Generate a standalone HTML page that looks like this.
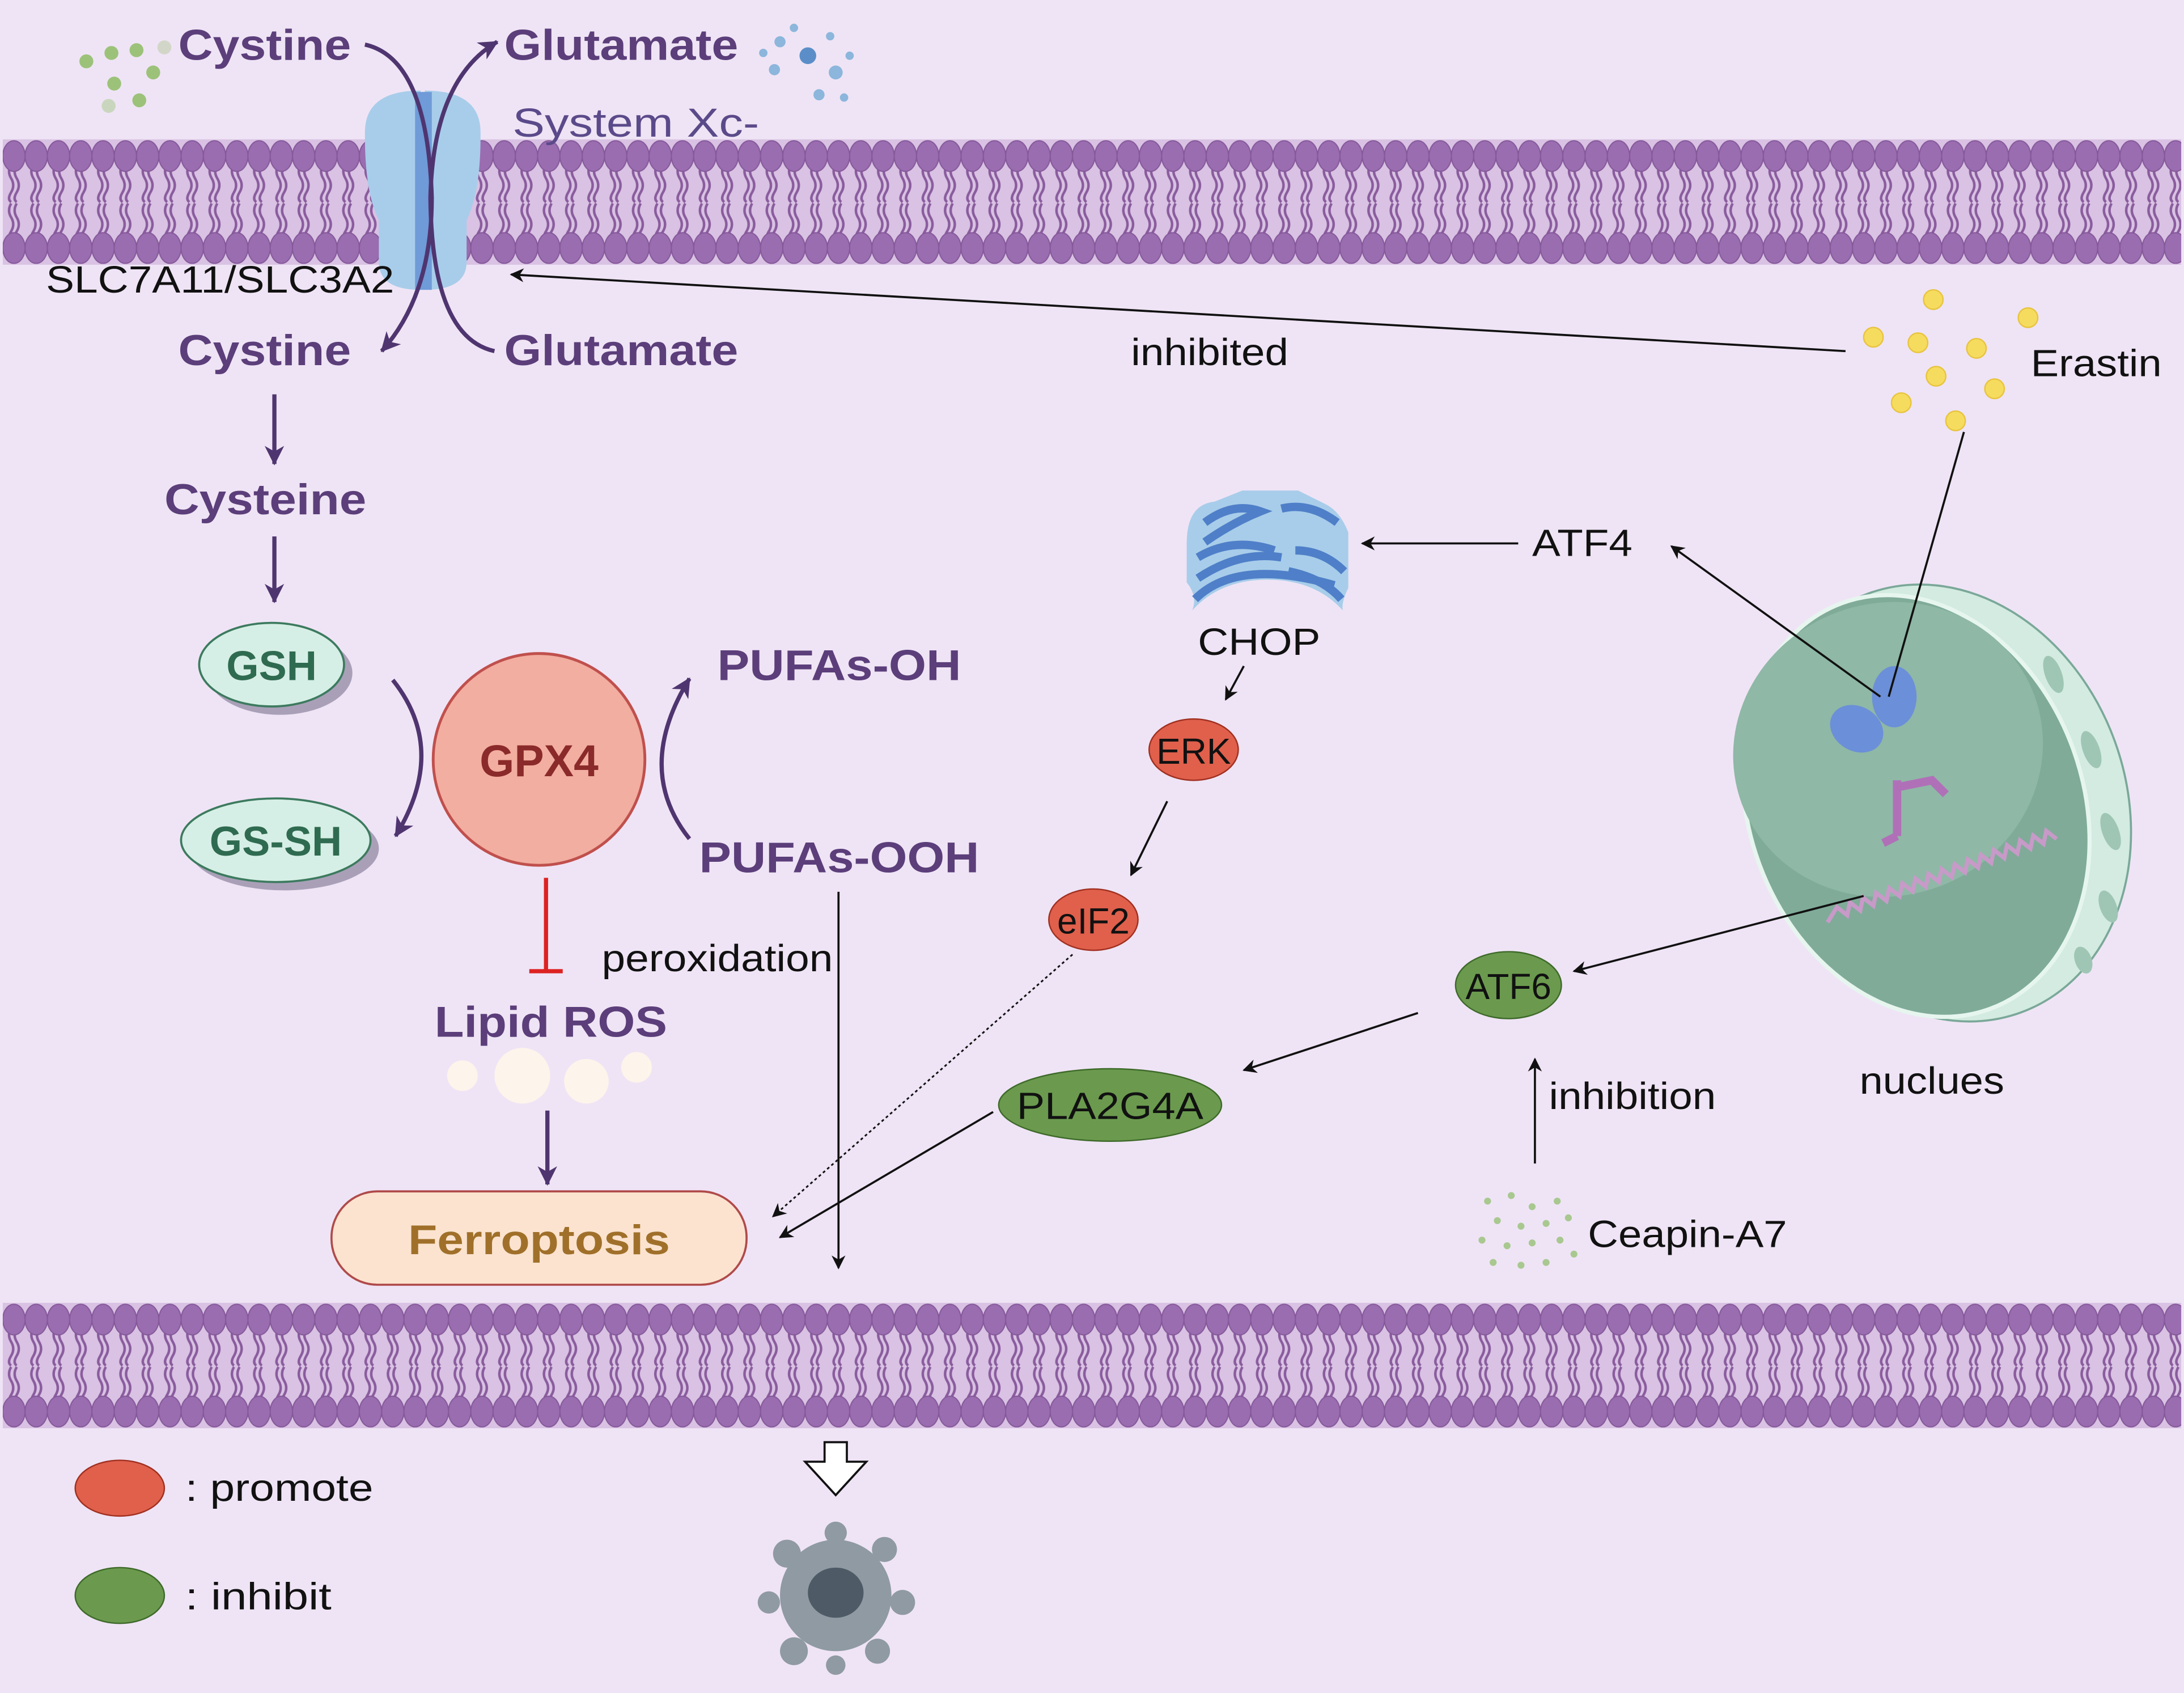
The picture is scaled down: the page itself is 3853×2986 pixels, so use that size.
<!DOCTYPE html>
<html><head><meta charset="utf-8"><style>
html,body{margin:0;padding:0;background:#efe4f5;}
svg{display:block;}
text{font-family:"Liberation Sans",sans-serif;}
</style></head><body>
<svg width="3853" height="2986" viewBox="0 0 1568 1215" preserveAspectRatio="none" xmlns="http://www.w3.org/2000/svg">
<defs>
<pattern id="mem1" x="2" y="100" width="16" height="90" patternUnits="userSpaceOnUse">
<rect width="16" height="90" fill="#d9c2e3"/>
<path d="M6 18 q-3 5 0 10 q3 5 0 10 q-3 5 0 7 M10 18 q-3 5 0 10 q3 5 0 10 q-3 5 0 7 M6 46 q-3 5 0 10 q3 5 0 10 q-3 5 0 7 M10 46 q-3 5 0 10 q3 5 0 10 q-3 5 0 7" stroke="#8a5c9e" stroke-width="1.8" fill="none"/>
<ellipse cx="8" cy="12" rx="8" ry="11" fill="#9a6cb0" stroke="#85589a" stroke-width="0.8"/>
<ellipse cx="8" cy="78" rx="8" ry="11" fill="#9a6cb0" stroke="#85589a" stroke-width="0.8"/>
</pattern>
<pattern id="mem2" x="2" y="935" width="16" height="90" patternUnits="userSpaceOnUse">
<rect width="16" height="90" fill="#d9c2e3"/>
<path d="M6 18 q-3 5 0 10 q3 5 0 10 q-3 5 0 7 M10 18 q-3 5 0 10 q3 5 0 10 q-3 5 0 7 M6 46 q-3 5 0 10 q3 5 0 10 q-3 5 0 7 M10 46 q-3 5 0 10 q3 5 0 10 q-3 5 0 7" stroke="#8a5c9e" stroke-width="1.8" fill="none"/>
<ellipse cx="8" cy="12" rx="8" ry="11" fill="#9a6cb0" stroke="#85589a" stroke-width="0.8"/>
<ellipse cx="8" cy="78" rx="8" ry="11" fill="#9a6cb0" stroke="#85589a" stroke-width="0.8"/>
</pattern>
<marker id="ar" markerWidth="10" markerHeight="10" refX="9" refY="5" orient="auto" markerUnits="userSpaceOnUse"><path d="M0 0 L10 5 L0 10 L3 5 Z" fill="#111"/></marker>
<marker id="arp" markerWidth="16" markerHeight="16" refX="13" refY="8" orient="auto" markerUnits="userSpaceOnUse"><path d="M0 1 L14 8 L0 15 L4 8 Z" fill="#4f3570"/></marker>
</defs>
<rect width="1568" height="1215" fill="#efe4f5"/>
<rect x="2" y="100" width="1564" height="90" fill="url(#mem1)"/>
<rect x="2" y="935" width="1564" height="90" fill="url(#mem2)"/>
<!-- transporter -->
<path d="M262 95 q0-30 40-30 l0 143 q-30 0 -30-20 l0-30 q-10-20 -10-60 z" fill="#a8cdea"/>
<path d="M345 95 q0-30 -40-30 l0 143 q30 0 30-20 l0-30 q10-20 10-60 z" fill="#a8cdea"/>
<rect x="298" y="66" width="12" height="142" fill="#6f9bd8"/>
<path d="M262 32 q45 10 48 110 q0 70 -36 110" stroke="#4f3570" stroke-width="3" fill="none" marker-end="url(#arp)"/>
<path d="M355 252 q-45 -10 -46 -110 q2 -85 48 -112" stroke="#4f3570" stroke-width="3" fill="none" marker-end="url(#arp)"/>
<g font-weight="bold" fill="#5b3e7a" font-size="31" lengthAdjust="spacingAndGlyphs">
<text x="128" y="43" textLength="124" lengthAdjust="spacingAndGlyphs">Cystine</text>
<text x="362" y="43" textLength="168" lengthAdjust="spacingAndGlyphs">Glutamate</text>
<text x="128" y="262" textLength="124" lengthAdjust="spacingAndGlyphs">Cystine</text>
<text x="362" y="262" textLength="168" lengthAdjust="spacingAndGlyphs">Glutamate</text>
<text x="118" y="369" textLength="145" lengthAdjust="spacingAndGlyphs">Cysteine</text>
<text x="515" y="488" textLength="175" lengthAdjust="spacingAndGlyphs">PUFAs-OH</text>
<text x="502" y="626" textLength="201" lengthAdjust="spacingAndGlyphs">PUFAs-OOH</text>
<text x="312" y="744" textLength="167" lengthAdjust="spacingAndGlyphs">Lipid ROS</text>
</g>
<text x="368" y="98" font-size="29" fill="#5b4a8a" textLength="177" lengthAdjust="spacingAndGlyphs">System Xc-</text>
<text x="33" y="210" font-size="27" fill="#111" textLength="250" lengthAdjust="spacingAndGlyphs">SLC7A11/SLC3A2</text>
<g fill="#9cc27a"><circle cx="62" cy="44" r="5"/><circle cx="80" cy="38" r="5"/><circle cx="98" cy="36" r="5"/><circle cx="110" cy="52" r="5"/><circle cx="82" cy="60" r="5"/><circle cx="100" cy="72" r="5"/><circle cx="78" cy="76" r="5" fill="#c9d6bd"/><circle cx="118" cy="34" r="5" fill="#d2d6c8"/></g>
<g fill="#8cb6dc"><circle cx="580" cy="40" r="6" fill="#5b8ec8"/><circle cx="560" cy="30" r="4"/><circle cx="596" cy="26" r="3"/><circle cx="556" cy="50" r="4"/><circle cx="600" cy="52" r="5"/><circle cx="588" cy="68" r="4"/><circle cx="610" cy="40" r="3"/><circle cx="570" cy="20" r="3"/><circle cx="548" cy="38" r="3"/><circle cx="606" cy="70" r="3"/></g>
<line x1="197" y1="283" x2="197" y2="333" stroke="#4f3570" stroke-width="3" marker-end="url(#arp)"/>
<line x1="197" y1="385" x2="197" y2="432" stroke="#4f3570" stroke-width="3" marker-end="url(#arp)"/>
<line x1="393" y1="797" x2="393" y2="850" stroke="#4f3570" stroke-width="3" marker-end="url(#arp)"/>
<ellipse cx="201" cy="483" rx="52" ry="30" fill="#a9a0b8"/>
<ellipse cx="195" cy="477" rx="52" ry="30" fill="#d6efe6" stroke="#3c7a5e" stroke-width="1.5"/>
<text x="195" y="488" font-size="30" font-weight="bold" fill="#2f6b50" text-anchor="middle">GSH</text>
<ellipse cx="204" cy="609" rx="68" ry="30" fill="#a9a0b8"/>
<ellipse cx="198" cy="603" rx="68" ry="30" fill="#d6efe6" stroke="#3c7a5e" stroke-width="1.5"/>
<text x="198" y="614" font-size="30" font-weight="bold" fill="#2f6b50" text-anchor="middle">GS-SH</text>
<path d="M282 488 q40 50 2 112" stroke="#4f3570" stroke-width="3" fill="none" marker-end="url(#arp)"/>
<path d="M495 602 q-40 -50 0 -115" stroke="#4f3570" stroke-width="3" fill="none" marker-end="url(#arp)"/>
<circle cx="387" cy="545" r="76" fill="#f2aea0" stroke="#c0504d" stroke-width="2"/>
<text x="387" y="557" font-size="32" font-weight="bold" fill="#8b2a2a" text-anchor="middle">GPX4</text>
<line x1="392" y1="630" x2="392" y2="697" stroke="#d22" stroke-width="3"/>
<line x1="380" y1="697" x2="404" y2="697" stroke="#d22" stroke-width="3"/>
<g fill="#fff6ea" opacity="0.9"><circle cx="332" cy="772" r="11"/><circle cx="375" cy="772" r="20"/><circle cx="421" cy="776" r="16"/><circle cx="457" cy="766" r="11"/></g>
<rect x="238" y="855" width="298" height="67" rx="33" fill="#fbe3cf" stroke="#b04a4a" stroke-width="1.5"/>
<text x="387" y="900" font-size="30" font-weight="bold" fill="#a0702a" text-anchor="middle" textLength="188" lengthAdjust="spacingAndGlyphs">Ferroptosis</text>
<text x="432" y="697" font-size="27" fill="#111" textLength="166" lengthAdjust="spacingAndGlyphs">peroxidation</text>
<line x1="602" y1="640" x2="602" y2="910" stroke="#111" stroke-width="1.5" marker-end="url(#ar)"/>
<g fill="#f6dc5e" stroke="#e8c440" stroke-width="1"><circle cx="1388" cy="215" r="7"/><circle cx="1456" cy="228" r="7"/><circle cx="1345" cy="242" r="7"/><circle cx="1377" cy="246" r="7"/><circle cx="1419" cy="250" r="7"/><circle cx="1390" cy="270" r="7"/><circle cx="1432" cy="279" r="7"/><circle cx="1365" cy="289" r="7"/><circle cx="1404" cy="302" r="7"/></g>
<text x="1458" y="270" font-size="27" fill="#111" textLength="94" lengthAdjust="spacingAndGlyphs">Erastin</text>
<line x1="1325" y1="252" x2="367" y2="197" stroke="#111" stroke-width="1.5" marker-end="url(#ar)"/>
<text x="812" y="262" font-size="27" fill="#111" textLength="113" lengthAdjust="spacingAndGlyphs">inhibited</text>
<!-- Nucleus -->
<g transform="rotate(-20 1385 575)">
<ellipse cx="1395" cy="580" rx="130" ry="160" fill="#d3ebe1" stroke="#7aa898" stroke-width="1.5"/>
<ellipse cx="1375" cy="575" rx="120" ry="155" fill="#80ab99" stroke="#e6f6ef" stroke-width="3"/>
<ellipse cx="1370" cy="530" rx="112" ry="105" fill="#8fb8a6"/>
<g fill="#9fc6b5"><ellipse cx="1500" cy="520" rx="6" ry="14"/><ellipse cx="1507" cy="580" rx="6" ry="14"/><ellipse cx="1500" cy="640" rx="6" ry="14"/><ellipse cx="1480" cy="690" rx="6" ry="12"/><ellipse cx="1450" cy="720" rx="6" ry="10"/></g>
</g>
<path d="M1295 635 l10-8 5 8 5-8 5 8 5-8 5 8 5-8 5 8 5-8 5 8 5-8 5 8 5-8 5 8 5-8 5 8 5-8 5 8 5-8 5 8 5-8 5 8 5-8 5 8 5-8 5 8 5-8 5 8 5-8 5 8 5-8 5 8 5-8 5 8" stroke="#c79ac8" stroke-width="3" fill="none" transform="rotate(-20 1380 600)"/>
<path d="M1362 560 l0 40 M1362 565 l25 -5 10 10 M1362 600 l-10 5" stroke="#b070b8" stroke-width="6" fill="none"/>
<ellipse cx="1333" cy="523" rx="20" ry="16" fill="#6b8fd8" transform="rotate(30 1333 523)"/>
<ellipse cx="1360" cy="500" rx="16" ry="22" fill="#6b8fd8"/>
<text x="1335" y="785" font-size="27" fill="#111" textLength="104" lengthAdjust="spacingAndGlyphs">nuclues</text>
<line x1="1410" y1="310" x2="1356" y2="500" stroke="#111" stroke-width="1.5"/>
<line x1="1350" y1="500" x2="1200" y2="392" stroke="#111" stroke-width="1.5" marker-end="url(#ar)"/>
<!-- ER -->
<g transform="translate(910 400)">
<path d="M-58 -10 q0-28 20-30 l20 -8 l40 0 l20 10 q10 5 16 20 l0 40 q-5 10 -4 16 q-20 -22 -54 -22 q-34 0 -54 22 q4 -10 -4 -20 z" fill="#a8cdea"/>
<g stroke="#4f7fc8" stroke-width="6" fill="none"><path d="M-45 -25 q20 -15 40 -8 q-20 8 -40 22"/><path d="M-50 0 q25 -15 55 -5"/><path d="M-50 15 q30 -20 60 -15"/><path d="M10 -35 q20 -5 40 10"/><path d="M20 -5 q20 0 35 15"/><path d="M15 10 q25 5 38 20"/><path d="M-52 30 q30 -30 100 -10"/></g>
</g>
<text x="860" y="470" font-size="27" fill="#111" textLength="88" lengthAdjust="spacingAndGlyphs">CHOP</text>
<text x="1100" y="399" font-size="27" fill="#111" textLength="72" lengthAdjust="spacingAndGlyphs">ATF4</text>
<line x1="1090" y1="390" x2="978" y2="390" stroke="#111" stroke-width="1.5" marker-end="url(#ar)"/>
<line x1="893" y1="478" x2="880" y2="502" stroke="#111" stroke-width="1.5" marker-end="url(#ar)"/>
<ellipse cx="857" cy="538" rx="32" ry="22" fill="#e0604c" stroke="#a03020" stroke-width="1"/>
<text x="857" y="548" font-size="26" fill="#111" text-anchor="middle">ERK</text>
<line x1="838" y1="575" x2="812" y2="628" stroke="#111" stroke-width="1.5" marker-end="url(#ar)"/>
<ellipse cx="785" cy="660" rx="32" ry="22" fill="#e0604c" stroke="#a03020" stroke-width="1"/>
<text x="785" y="670" font-size="26" fill="#111" text-anchor="middle">eIF2</text>
<line x1="770" y1="685" x2="555" y2="873" stroke="#111" stroke-width="1.2" stroke-dasharray="2 2" marker-end="url(#ar)"/>
<ellipse cx="1083" cy="707" rx="38" ry="24" fill="#6b9a4e" stroke="#3e6a2a" stroke-width="1"/>
<text x="1083" y="717" font-size="26" fill="#111" text-anchor="middle">ATF6</text>
<line x1="1338" y1="643" x2="1130" y2="697" stroke="#111" stroke-width="1.5" marker-end="url(#ar)"/>
<line x1="1018" y1="727" x2="893" y2="768" stroke="#111" stroke-width="1.5" marker-end="url(#ar)"/>
<ellipse cx="797" cy="793" rx="80" ry="26" fill="#6b9a4e" stroke="#3e6a2a" stroke-width="1"/>
<text x="797" y="803" font-size="27" fill="#111" text-anchor="middle" textLength="134" lengthAdjust="spacingAndGlyphs">PLA2G4A</text>
<line x1="713" y1="798" x2="560" y2="888" stroke="#111" stroke-width="1.5" marker-end="url(#ar)"/>
<line x1="1102" y1="835" x2="1102" y2="760" stroke="#111" stroke-width="1.5" marker-end="url(#ar)"/>
<text x="1112" y="796" font-size="27" fill="#111" textLength="120" lengthAdjust="spacingAndGlyphs">inhibition</text>
<g fill="#a8c890"><circle cx="1068" cy="862" r="2.5"/><circle cx="1085" cy="858" r="2.5"/><circle cx="1100" cy="866" r="2.5"/><circle cx="1118" cy="862" r="2.5"/><circle cx="1075" cy="876" r="2.5"/><circle cx="1092" cy="880" r="2.5"/><circle cx="1110" cy="878" r="2.5"/><circle cx="1126" cy="874" r="2.5"/><circle cx="1064" cy="890" r="2.5"/><circle cx="1082" cy="894" r="2.5"/><circle cx="1100" cy="892" r="2.5"/><circle cx="1120" cy="890" r="2.5"/><circle cx="1072" cy="906" r="2.5"/><circle cx="1092" cy="908" r="2.5"/><circle cx="1110" cy="906" r="2.5"/><circle cx="1130" cy="900" r="2.5"/></g>
<text x="1140" y="895" font-size="27" fill="#111" textLength="143" lengthAdjust="spacingAndGlyphs">Ceapin-A7</text>
<ellipse cx="86" cy="1068" rx="32" ry="20" fill="#e0604c" stroke="#a03020" stroke-width="1"/>
<text x="133" y="1077" font-size="27" fill="#111" textLength="135" lengthAdjust="spacingAndGlyphs">:  promote</text>
<ellipse cx="86" cy="1145" rx="32" ry="20" fill="#6b9a4e" stroke="#3e6a2a" stroke-width="1"/>
<text x="133" y="1155" font-size="27" fill="#111" textLength="105" lengthAdjust="spacingAndGlyphs">:  inhibit</text>
<path d="M592 1035 l16 0 0 14 14 0 -22 24 -22 -24 14 0 z" fill="#fff" stroke="#111" stroke-width="1.5"/>
<g fill="#8f9aa3"><circle cx="600" cy="1145" r="40"/><circle cx="565" cy="1115" r="10"/><circle cx="635" cy="1112" r="9"/><circle cx="552" cy="1150" r="8"/><circle cx="648" cy="1150" r="9"/><circle cx="570" cy="1185" r="10"/><circle cx="630" cy="1185" r="9"/><circle cx="600" cy="1100" r="8"/><circle cx="600" cy="1195" r="7"/></g>
<ellipse cx="600" cy="1143" rx="20" ry="18" fill="#4e5a66"/>
</svg>
</body></html>
